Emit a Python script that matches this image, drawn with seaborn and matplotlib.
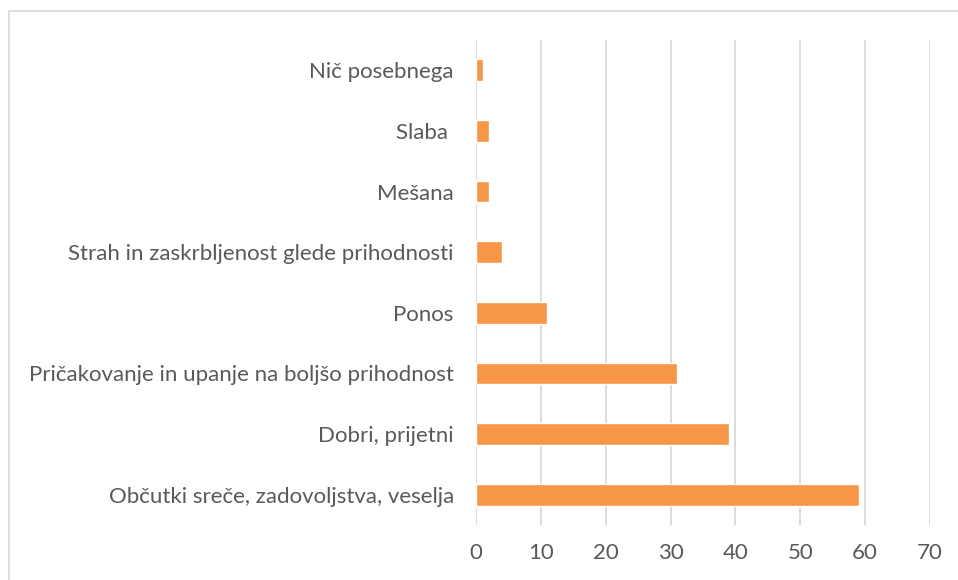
import matplotlib
matplotlib.use('Agg')
import matplotlib.pyplot as plt
import seaborn as sns
import pandas as pd
from matplotlib.patches import Rectangle

# data, top to bottom as shown in the chart
categories = ['Nič posebnega', 'Slaba ', 'Mešana',
              'Strah in zaskrbljenost glede prihodnosti', 'Ponos',
              'Pričakovanje in upanje na boljšo prihodnost',
              'Dobri, prijetni', 'Občutki sreče, zadovoljstva, veselja']
values = [1, 2, 2, 4, 11, 31, 39, 59]
x_ticks = [0, 10, 20, 30, 40, 50, 60, 70]

df = pd.DataFrame({'label': categories, 'count': values})

sns.set_style('white')
plt.rcParams['font.family'] = ['Lato', 'DejaVu Sans']

fig = plt.figure(figsize=(9.58, 5.8), dpi=100)
ax = fig.add_axes([0.4969, 0.0948, 0.4739, 0.8362])

sns.barplot(data=df, x='count', y='label', orient='h', color='#F79646',
            saturation=1, width=0.36, ax=ax)

ax.set_xlim(0, 70)
ax.set_ylim(len(categories) - 0.5, -0.5)
ax.set_xticks(x_ticks)
ax.xaxis.grid(True, color='#D9D9D9', linewidth=1.3)
ax.set_axisbelow(True)
for s in ax.spines.values():
    s.set_visible(False)
ax.set_xlabel('')
ax.set_ylabel('')
ax.tick_params(axis='y', length=0, pad=16, labelsize=16, labelcolor='#595959')
ax.tick_params(axis='x', length=0, pad=13, labelsize=16, labelcolor='#595959')

# outer chart border (right and bottom edges fall outside the image)
fig.patches.append(Rectangle((9 / 958, -0.05), 1.0, 1.05 - 11 / 580,
                             transform=fig.transFigure, fill=False,
                             edgecolor='#D9D9D9', linewidth=1.2))

fig.savefig('out.png', dpi=100)
